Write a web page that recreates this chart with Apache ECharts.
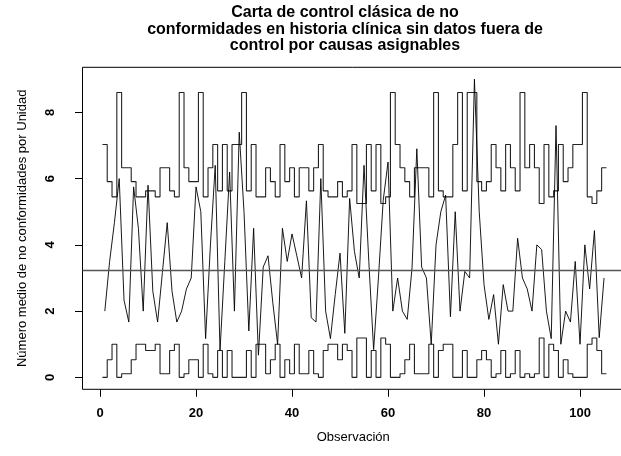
<!DOCTYPE html>
<html>
<head>
<meta charset="utf-8">
<script src="https://cdn.jsdelivr.net/npm/echarts@6/dist/echarts.min.js"></script>
<style>
  html, body { margin: 0; padding: 0; background: #fff; }
  #chart { width: 621px; height: 456px; }
</style>
</head>
<body>
<div id="chart"></div>
<script>
// Observation index 1..105
const observations = Array.from({length: 105}, (_, k) => k + 1);

// Mean number of nonconformities per unit
const uValues = [
  2.0, 3.5, 4.67, 6.0, 2.33, 1.67, 5.75, 4.5, 2.0, 5.8,
  2.6, 1.67, 3.17, 4.67, 2.6, 1.67, 2.0, 2.67, 3.0, 5.75,
  5.0, 1.17, 4.0, 6.4, 0.8, 3.5, 6.2, 2.0, 7.4, 5.0,
  1.4, 4.5, 0.67, 3.33, 3.67, 2.25, 1.0, 4.5, 3.5, 4.33,
  3.67, 3.0, 5.33, 1.8, 1.67, 6.0, 2.0, 1.17, 2.5, 3.75,
  1.33, 5.4, 3.8, 3.0, 6.4, 3.5, 0.84, 3.0, 5.35, 6.5,
  2.0, 3.0, 2.0, 1.75, 3.3, 6.9, 3.33, 3.0, 1.0, 4.0,
  5.0, 5.5, 1.83, 5.0, 2.0, 3.2, 3.0, 9.0, 5.0, 2.8,
  1.75, 2.5, 1.0, 2.8, 2.0, 2.0, 4.2, 3.0, 2.67, 2.0,
  4.0, 3.86, 2.0, 1.17, 7.6, 1.0, 2.0, 1.67, 3.5, 1.0,
  4.0, 2.67, 4.43, 1.2, 3.0
];

const ucl = [
  7.03, 5.91, 5.45, 8.60, 6.33, 6.33, 5.91, 5.45, 5.45, 5.63,
  5.63, 5.45, 6.33, 6.33, 5.63, 5.45, 8.60, 6.33, 5.91, 5.91,
  8.60, 5.45, 6.33, 7.03, 5.63, 7.03, 5.63, 7.03, 7.03, 8.60,
  5.63, 7.03, 5.45, 5.45, 6.33, 5.91, 5.45, 7.03, 5.91, 6.33,
  5.45, 6.33, 6.33, 5.63, 6.33, 7.03, 5.63, 5.45, 5.45, 5.91,
  5.45, 5.63, 7.03, 5.25, 5.25, 7.03, 5.63, 7.03, 5.25, 5.45,
  8.60, 7.03, 6.33, 5.91, 5.45, 6.33, 6.33, 6.33, 5.45, 8.60,
  5.63, 5.45, 5.45, 7.03, 8.60, 5.63, 8.60, 8.60, 5.91, 5.63,
  5.91, 7.03, 6.33, 5.63, 7.03, 6.33, 5.63, 8.60, 6.33, 7.03,
  6.33, 5.25, 7.03, 5.45, 5.63, 7.03, 5.91, 6.33, 7.03, 7.03,
  8.60, 5.45, 5.25, 5.63, 6.33
];

const lcl = [
  0, 0.53, 1.00, 0, 0.11, 0.11, 0.53, 1.00, 1.00, 0.81,
  0.81, 1.00, 0.11, 0.11, 0.81, 1.00, 0, 0.11, 0.53, 0.53,
  0, 1.00, 0.11, 0, 0.81, 0, 0.81, 0, 0, 0,
  0.81, 0, 1.00, 1.00, 0.11, 0.53, 1.00, 0, 0.53, 0.11,
  1.00, 0.11, 0.11, 0.81, 0.11, 0, 0.81, 1.00, 1.00, 0.53,
  1.00, 0.81, 0, 1.19, 1.19, 0, 0.81, 0, 1.19, 1.00,
  0, 0, 0.11, 0.53, 1.00, 0.11, 0.11, 0.11, 1.00, 0,
  0.81, 1.00, 1.00, 0, 0, 0.81, 0, 0, 0.53, 0.81,
  0.53, 0, 0.11, 0.81, 0, 0.11, 0.81, 0, 0.11, 0,
  0.11, 1.19, 0, 1.00, 0.81, 0, 0.53, 0.11, 0, 0,
  0, 1.00, 1.19, 0.81, 0.11
];

const centerLine = 3.22;

const xTicks = [0, 20, 40, 60, 80, 100];
const yTicks = [0, 2, 4, 6, 8];

const titleText = 'Carta de control clásica de no\nconformidades en historia clínica sin datos fuera de\ncontrol por causas asignables';
const xName = 'Observación';
const yName = 'Número medio de no conformidades por Unidad';

// limits are drawn as steps spanning each observation (i-0.5 .. i+0.5)
function stepSeries(vals) {
  const n = vals.length;
  const pts = [[observations[0] - 0.5, vals[0]]];
  for (let k = 0; k < n; k++) pts.push([observations[k], vals[k]]);
  pts.push([observations[n - 1] + 0.5, vals[n - 1]]);
  return pts;
}

const FONT = "'Liberation Sans', Arial, Helvetica, sans-serif";
const chart = echarts.init(document.getElementById('chart'), null, {renderer: 'canvas'});

chart.setOption({
  animation: false,
  backgroundColor: '#ffffff',
  title: {
    text: titleText,
    left: 345,
    top: 4.5,
    padding: 0,
    textAlign: 'center',
    textStyle: { fontFamily: FONT, fontSize: 16, fontWeight: 'bold', color: '#000', lineHeight: 16.4 }
  },
  grid: {
    left: 82.5, top: 67.3, width: 541.5, height: 322,
    show: true, borderColor: '#000', borderWidth: 1, backgroundColor: 'transparent',
    containLabel: false, outerBoundsMode: 'none'
  },
  xAxis: {
    type: 'value', min: -3.65, max: 109.16,
    axisLine: { show: false, onZero: false },
    splitLine: { show: false },
    axisTick: { show: true, length: 7.5, customValues: xTicks, lineStyle: { color: '#000', width: 1 } },
    axisLabel: { customValues: xTicks, margin: 17.5, fontFamily: FONT, fontSize: 13, fontWeight: 'bold', color: '#000' },
    name: xName, nameLocation: 'middle', nameGap: 42,
    nameTextStyle: { fontFamily: FONT, fontSize: 13, color: '#000' }
  },
  yAxis: {
    type: 'value', min: -0.36, max: 9.36,
    axisLine: { show: false, onZero: false },
    splitLine: { show: false },
    axisTick: { show: true, length: 7.5, customValues: yTicks, lineStyle: { color: '#000', width: 1 } },
    axisLabel: { customValues: yTicks, rotate: 90, margin: 26, fontFamily: FONT, fontSize: 13, fontWeight: 'bold', color: '#000' },
    name: yName, nameLocation: 'middle', nameRotate: 90, nameGap: 54,
    nameTextStyle: { fontFamily: FONT, fontSize: 13, color: '#000' }
  },
  series: [
    {
      name: 'UCL', type: 'line', step: 'middle', showSymbol: false, silent: true,
      data: stepSeries(ucl),
      lineStyle: { color: '#222', width: 1.1 }
    },
    {
      name: 'LCL', type: 'line', step: 'middle', showSymbol: false, silent: true,
      data: stepSeries(lcl),
      lineStyle: { color: '#222', width: 1.1 }
    },
    {
      name: 'u', type: 'line', showSymbol: false, silent: true,
      data: observations.map((x, k) => [x, uValues[k]]),
      lineStyle: { color: '#000', width: 0.9 },
      markLine: {
        silent: true, symbol: 'none', label: { show: false },
        lineStyle: { color: '#555', width: 1.3, type: 'solid' },
        data: [{ yAxis: centerLine }]
      }
    }
  ]
});
</script>
</body>
</html>
